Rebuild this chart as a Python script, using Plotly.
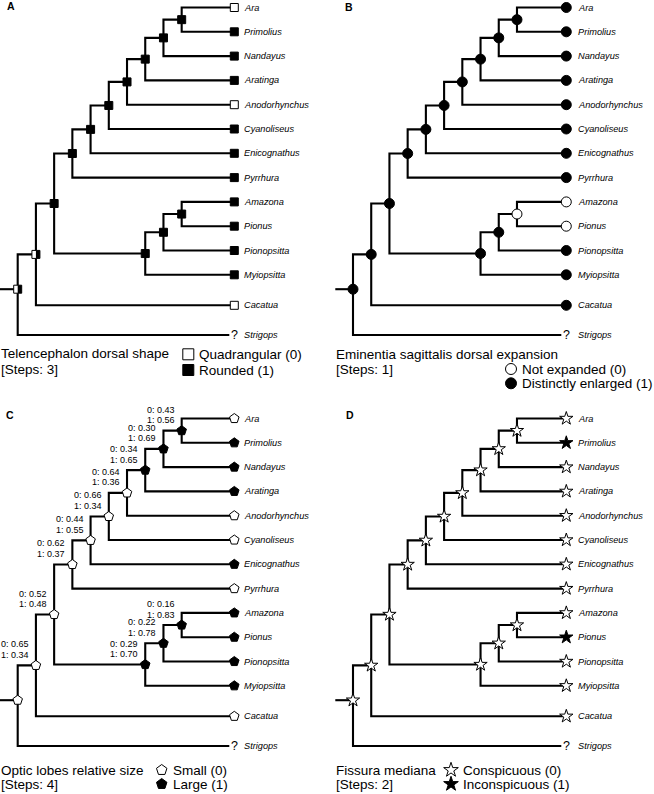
import plotly.graph_objects as go

# ---------------- DATA ----------------
TREE = ("(Strigops,(Cacatua,((((((((Ara,Primolius)N1,Nandayus)N2,Aratinga)N3,"
        "Anodorhynchus)N4,Cyanoliseus)N5,Enicognathus)N6,Pyrrhura)N7,"
        "(((Amazona,Pionus)M1,Pionopsitta)M2,Myiopsitta)M3)N8)N9)R")

TIPS = ["Ara", "Primolius", "Nandayus", "Aratinga", "Anodorhynchus", "Cyanoliseus",
        "Enicognathus", "Pyrrhura", "Amazona", "Pionus", "Pionopsitta", "Myiopsitta",
        "Cacatua", "Strigops"]
NODES = ["N1", "N2", "N3", "N4", "N5", "N6", "N7", "M1", "M2", "M3", "N8", "N9", "R"]

PANELS = ["A", "B", "C", "D"]
TITLES = {"A": "Telencephalon dorsal shape",
          "B": "Eminentia sagittalis dorsal expansion",
          "C": "Optic lobes relative size",
          "D": "Fissura mediana"}
STEPS = {"A": "[Steps: 3]", "B": "[Steps: 1]", "C": "[Steps: 4]", "D": "[Steps: 2]"}
STATE_NAMES = {"A": ["Quadrangular (0)", "Rounded (1)"],
               "B": ["Not expanded (0)", "Distinctly enlarged (1)"],
               "C": ["Small (0)", "Large (1)"],
               "D": ["Conspicuous (0)", "Inconspicuous (1)"]}

# tip states (order of TIPS); "?" = missing;  node states (order of NODES); "e" = equivocal
A_TIP_STATES = [0, 1, 1, 1, 0, 1, 1, 1, 1, 1, 1, 1, 0, "?"]
A_NODE_STATES = [1, 1, 1, 1, 1, 1, 1, 1, 1, 1, 1, "e", "e"]
B_TIP_STATES = [1, 1, 1, 1, 1, 1, 1, 1, 0, 0, 1, 1, 1, "?"]
B_NODE_STATES = [1, 1, 1, 1, 1, 1, 1, 0, 1, 1, 1, 1, 1]
C_TIP_STATES = [0, 1, 1, 1, 0, 0, 1, 0, 1, 1, 1, 1, 0, "?"]
C_NODE_STATES = [1, 1, 1, 0, 0, 0, 0, 1, 1, 1, 0, 0, 0]
D_TIP_STATES = [0, 1, 0, 0, 0, 0, 0, 0, 0, 1, 0, 0, 0, "?"]
D_NODE_STATES = [0, 0, 0, 0, 0, 0, 0, 0, 0, 0, 0, 0, 0]

# panel C marginal probabilities of states 0 / 1 at nodes (order of NODES)
C_PROB0 = ["0.43", "0.30", "0.34", "0.64", "0.66", "0.44", "0.62", "0.16", "0.22", "0.29", "0.52", "0.65", None]
C_PROB1 = ["0.56", "0.69", "0.65", "0.36", "0.34", "0.55", "0.37", "0.83", "0.78", "0.70", "0.48", "0.34", None]

TIP_STATES = {"A": A_TIP_STATES, "B": B_TIP_STATES, "C": C_TIP_STATES, "D": D_TIP_STATES}
NODE_STATES = {"A": A_NODE_STATES, "B": B_NODE_STATES, "C": C_NODE_STATES, "D": D_NODE_STATES}

# ---------------- LAYOUT / STYLE ----------------
W, H = 654, 794
FONT = "Liberation Sans, Arial, sans-serif"
ORIGIN = {"A": (0, 0), "B": (335.3, 0), "C": (0, 411), "D": (335.3, 411)}
ROOT_X = 17.7
STEP_X = 18.22
STUB = 17.7
ROOT_Y_SHIFT = -5.5
TIP_X = {"A": 234.3, "B": 231.0, "C": 234.3, "D": 231.0}
LABEL_DX = {"A": 8.7, "B": 11.0, "C": 8.7, "D": 11.0}
ROW0, ROW = 7.5, 24.3
EXTRA_GAP = {12: 6.2, 13: 11.6}
SYMBOL = {"A": "square", "B": "circle", "C": "pentagon", "D": "star"}
MSIZE = {"A": 8, "B": 10, "C": 10, "D": 10}
LEG_MSIZE = {"A": 11, "B": 11, "C": 11, "D": 11}
LINE_W = 2.1
LETTER_POS = {"A": (11, 6), "B": (348.7, 6.5), "C": (10, 415), "D": (349.7, 415)}
TITLE_Y = {"A": (353.3, 369.5), "B": (354.3, 369.5), "C": (770.7, 784.3), "D": (770.7, 784.3)}
LEG_ITEM = {"A": (188.3, 198.3, 354.3, 370.0),
            "B": (511.0, 521.3, 369.0, 383.3),
            "C": (161.7, 171.7, 770.0, 784.0),
            "D": (451.0, 462.0, 770.0, 784.0)}


def parse(s):
    pos = 0

    def name():
        nonlocal pos
        st = pos
        while pos < len(s) and s[pos] not in ",()":
            pos += 1
        return s[st:pos]

    def node():
        nonlocal pos
        if s[pos] == "(":
            pos += 1
            ch = [node()]
            while s[pos] == ",":
                pos += 1
                ch.append(node())
            pos += 1
            return {"name": name(), "children": ch}
        return {"name": name(), "children": []}

    return node()


tree = parse(TREE)


def tip_y(i):
    return ROW0 + i * ROW + EXTRA_GAP.get(i, 0)


def heights(n):
    if not n["children"]:
        n["h"] = 0
    else:
        n["h"] = max(heights(c) for c in n["children"]) + 1
    return n["h"]


heights(tree)
HROOT = tree["h"]

fig = go.Figure()
annotations = []
shapes = []


def ann(x, y, text, size, xanchor="left", italic=False, bold=False, color="black"):
    t = text
    if italic:
        t = "<i>" + t + "</i>"
    if bold:
        t = "<b>" + t + "</b>"
    annotations.append(dict(x=x, y=y, xref="x", yref="y", text=t, showarrow=False,
                            xanchor=xanchor, yanchor="middle", borderpad=0,
                            font=dict(size=size, family=FONT, color=color)))


for p in PANELS:
    ox, oy = ORIGIN[p]
    pos = {}

    def place(n):
        if not n["children"]:
            i = TIPS.index(n["name"])
            pos[n["name"]] = (ox + TIP_X[p], oy + tip_y(i))
        else:
            for c in n["children"]:
                place(c)
            ys = [pos[c["name"]][1] for c in n["children"]]
            y = sum(ys) / len(ys)
            if n is tree:
                y += ROOT_Y_SHIFT
            pos[n["name"]] = (ox + ROOT_X + (HROOT - n["h"]) * STEP_X, y)

    place(tree)

    # branches
    lx, ly = [], []

    def branches(n):
        nx, ny = pos[n["name"]]
        for c in n["children"]:
            cx, cy = pos[c["name"]]
            if not c["children"] and TIP_STATES[p][TIPS.index(c["name"])] == "?":
                cx -= 5
            lx.extend([cx, nx, nx, None])
            ly.extend([cy, cy, ny, None])
            branches(c)

    branches(tree)
    rx, ry = pos["R"]
    lx.extend([rx - STUB, rx, None])
    ly.extend([ry, ry, None])
    fig.add_trace(go.Scatter(x=lx, y=ly, mode="lines", hoverinfo="skip",
                             line=dict(color="black", width=LINE_W)))

    # markers
    groups = {0: ([], []), 1: ([], []), "e": ([], [])}
    for i, t in enumerate(TIPS):
        s = TIP_STATES[p][i]
        x, y = pos[t]
        if s == "?":
            ann(x, y, "?", 12.5, xanchor="center")
        else:
            groups[s][0].append(x)
            groups[s][1].append(y)
        ann(x + LABEL_DX[p], y, t, 9.2, italic=True)
    for i, nd in enumerate(NODES):
        s = NODE_STATES[p][i]
        x, y = pos[nd]
        groups[s][0].append(x)
        groups[s][1].append(y)
        if p == "C" and C_PROB0[i] is not None:
            ann(x - 6, y - 21, "0: " + C_PROB0[i], 9, xanchor="right")
            ann(x - 6, y - 10.5, "1: " + C_PROB1[i], 9, xanchor="right")

    for s in [0, "e", 1]:
        xs, ys = groups[s]
        if not xs:
            continue
        fill = "black" if s == 1 else "white"
        fig.add_trace(go.Scatter(x=xs, y=ys, mode="markers", hoverinfo="skip",
                                 marker=dict(symbol=SYMBOL[p], size=MSIZE[p], color=fill,
                                             line=dict(color="black", width=1))))
        if s == "e":
            hs = MSIZE[p] / 2
            for x, y in zip(xs, ys):
                shapes.append(dict(type="rect", xref="x", yref="y", x0=x, x1=x + hs,
                                   y0=y - hs, y1=y + hs, fillcolor="black",
                                   line=dict(width=0), layer="above"))

    # panel letter
    lxp, lyp = LETTER_POS[p]
    ann(lxp, lyp, p, 10.5, xanchor="center", bold=True)

    # title / steps
    t1, t2 = TITLE_Y[p]
    ann(ox, t1, TITLES[p], 13.5)
    ann(ox, t2, STEPS[p], 13.5)

    # legend
    mx, tx, y0, y1 = LEG_ITEM[p]
    fig.add_trace(go.Scatter(x=[mx, mx], y=[y0, y1], mode="markers", hoverinfo="skip",
                             marker=dict(symbol=SYMBOL[p], size=LEG_MSIZE[p],
                                         color=["white", "black"],
                                         line=dict(color="black", width=1))))
    ann(tx, y0, STATE_NAMES[p][0], 13.5)
    ann(tx, y1, STATE_NAMES[p][1], 13.5)

fig.update_layout(
    width=W, height=H, autosize=False,
    margin=dict(l=0, r=0, t=0, b=0),
    paper_bgcolor="white", plot_bgcolor="white",
    showlegend=False,
    xaxis=dict(range=[0, W], visible=False, fixedrange=True),
    yaxis=dict(range=[H, 0], visible=False, fixedrange=True),
    annotations=annotations, shapes=shapes,
)

fig.write_html("out.html", config={"displayModeBar": False, "staticPlot": True},
               post_script="document.body.style.margin='0';")
